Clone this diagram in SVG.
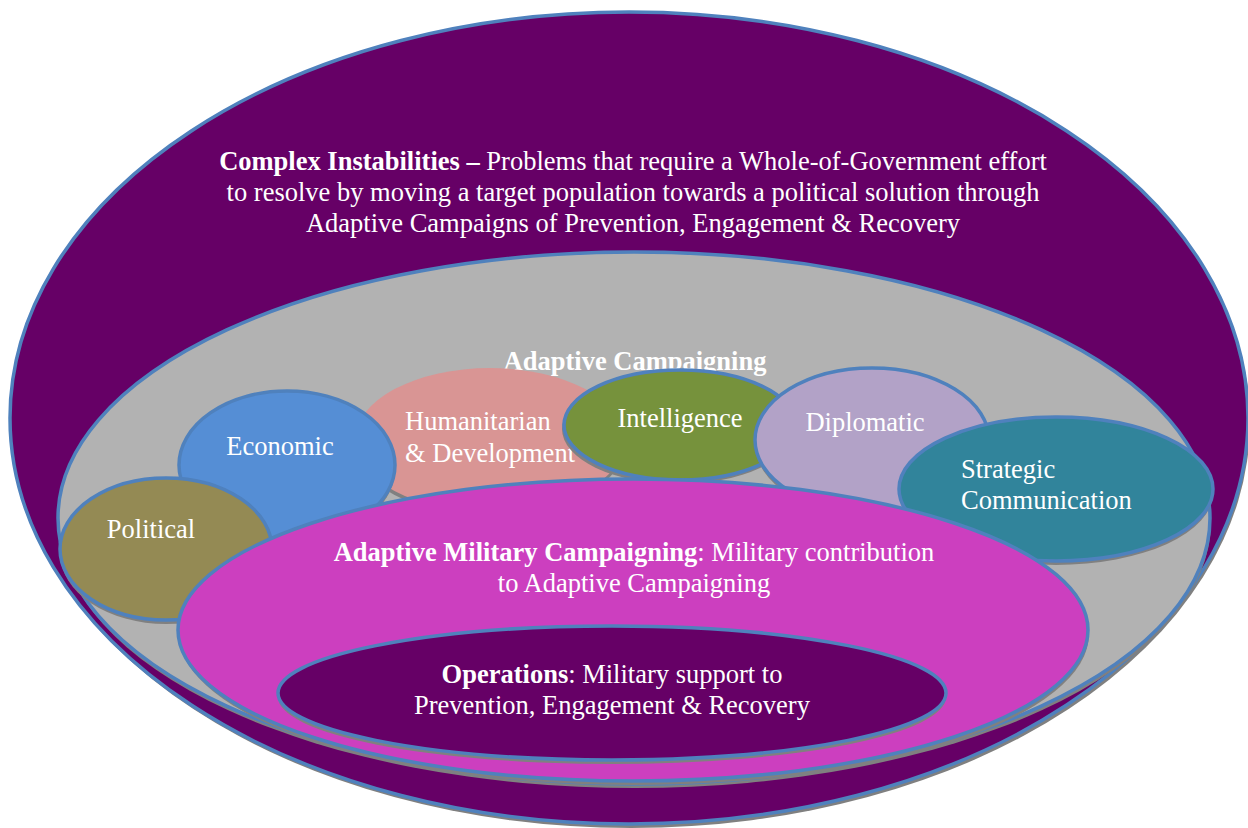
<svg xmlns="http://www.w3.org/2000/svg" width="1248" height="828" viewBox="0 0 1248 828">
<style>
.sh{fill:#808080}
.st{stroke:#4F81BD;stroke-width:3.5}
text{font-family:"Liberation Serif","Times New Roman",serif;font-size:26.5px;fill:#FFFFFF}
.c{text-anchor:middle}
.b{font-weight:bold}
</style>
<rect width="1248" height="828" fill="#FFFFFF"/>
<g id="complex-instabilities">
<ellipse class="sh" cx="631" cy="422" rx="619" ry="406"/>
<ellipse class="st" cx="629" cy="418" rx="619" ry="406" fill="#660066"/>
<text class="c" x="633" y="170"><tspan class="b">Complex Instabilities –</tspan> Problems that require a Whole-of-Government effort</text>
<text class="c" x="633" y="201">to resolve by moving a target population towards a political solution through</text>
<text class="c" x="633" y="232">Adaptive Campaigns of Prevention, Engagement &amp; Recovery</text>
</g>
<g id="adaptive-campaigning">
<ellipse class="sh" cx="635" cy="522" rx="576" ry="266"/>
<ellipse class="st" cx="634" cy="518" rx="576" ry="266" fill="#B2B2B2"/>
<text class="c b" x="635" y="370">Adaptive Campaigning</text>
</g>
<g id="humanitarian">
<ellipse class="sh" cx="490" cy="444" rx="135" ry="72"/>
<ellipse cx="490" cy="440" rx="135" ry="72" fill="#D99594"/>
<text x="405" y="430">Humanitarian</text>
<text x="405" y="462">&amp; Development</text>
</g>
<g id="economic">
<ellipse class="sh" cx="287" cy="469" rx="108" ry="74"/>
<ellipse class="st" cx="287" cy="465" rx="108" ry="74" fill="#558ED5"/>
<text class="c" x="280" y="455">Economic</text>
</g>
<g id="political">
<ellipse class="sh" cx="166" cy="553" rx="106" ry="71"/>
<ellipse class="st" cx="166" cy="549" rx="106" ry="71" fill="#948A54"/>
<text class="c" x="151" y="538">Political</text>
</g>
<g id="intelligence">
<ellipse class="sh" cx="678" cy="429" rx="116" ry="55"/>
<ellipse class="st" cx="680" cy="425" rx="116" ry="55" fill="#76923C"/>
<text class="c" x="680" y="427">Intelligence</text>
</g>
<g id="diplomatic">
<ellipse class="sh" cx="872" cy="444" rx="117" ry="72"/>
<ellipse class="st" cx="872" cy="440" rx="117" ry="72" fill="#B2A2C7"/>
<text class="c" x="865" y="431">Diplomatic</text>
</g>
<g id="strategic-communication">
<ellipse class="sh" cx="1056" cy="493" rx="157" ry="72"/>
<ellipse class="st" cx="1056" cy="489" rx="157" ry="72" fill="#31849B"/>
<text x="961" y="478">Strategic</text>
<text x="961" y="509">Communication</text>
</g>
<g id="adaptive-military-campaigning">
<ellipse class="sh" cx="634" cy="634" rx="455" ry="151"/>
<ellipse class="st" cx="633" cy="630" rx="455" ry="151" fill="#CC3FBF"/>
<text class="c" x="634" y="561"><tspan class="b">Adaptive Military Campaigning</tspan>: Military contribution</text>
<text class="c" x="634" y="592">to Adaptive Campaigning</text>
</g>
<g id="operations">
<ellipse class="sh" cx="612" cy="697" rx="334" ry="67"/>
<ellipse class="st" cx="612" cy="693" rx="334" ry="67" fill="#660066"/>
<text class="c" x="612" y="683"><tspan class="b">Operations</tspan>: Military support to</text>
<text class="c" x="612" y="714">Prevention, Engagement &amp; Recovery</text>
</g>
<g id="connectors"/>
</svg>
